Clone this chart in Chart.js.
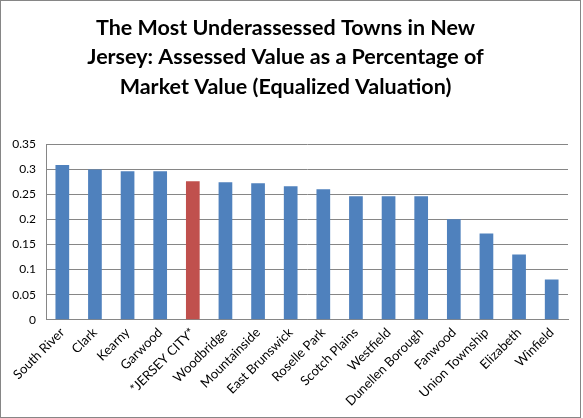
<!DOCTYPE html>
<html>
<head>
<meta charset="utf-8">
<script src="https://cdn.jsdelivr.net/npm/chart.js@4"></script>
<style>
  html, body { margin: 0; padding: 0; background: #fff; }
  #wrap {
    width: 579px; height: 416px;
    border: 1px solid #868686;
    position: relative;
  }
</style>
</head>
<body>
<div id="wrap"><canvas id="grafico"></canvas></div>
<script>
// Dados do gráfico
const cidades = ['South River', 'Clark', 'Kearny', 'Garwood', '*JERSEY CITY*', 'Woodbridge',
    'Mountainside', 'East Brunswick', 'Roselle Park', 'Scotch Plains', 'Westfield',
    'Dunellen Borough', 'Fanwood', 'Union Township', 'Elizabeth', 'Winfield'];
const valores = [0.308, 0.299, 0.296, 0.296, 0.276, 0.274, 0.272, 0.266, 0.260, 0.246,
    0.246, 0.246, 0.200, 0.172, 0.130, 0.080];
const rotulosY = ['0', '0.05', '0.1', '0.15', '0.2', '0.25', '0.3', '0.35'];
const titulo = ['The Most Underassessed Towns in New',
    'Jersey: Assessed Value as a Percentage of',
    'Market Value (Equalized Valuation)'];

// Destaque para Jersey City
const cores = cidades.map(c => c === '*JERSEY CITY*' ? '#C0504D' : '#4F81BD');

const ctx = document.getElementById('grafico').getContext('2d');
new Chart(ctx, {
    type: 'bar',
    data: {
        labels: cidades,
        datasets: [{
            data: valores,
            backgroundColor: cores,
            borderWidth: 0,
            categoryPercentage: 1,
            barPercentage: 0.42
        }]
    },
    options: {
        responsive: true,
        maintainAspectRatio: false,
        animation: false,
        layout: { padding: { left: 2, right: 12, top: 0, bottom: 3 } },
        plugins: {
            legend: { display: false },
            tooltip: { enabled: false },
            title: {
                display: true,
                text: titulo,
                color: '#000',
                font: { family: 'Lato', size: 21.5, weight: 'bold', lineHeight: 1.38 },
                padding: { top: 12, bottom: 42 }
            }
        },
        scales: {
            x: {
                grid: { display: false, drawTicks: false },
                border: { color: '#868686' },
                ticks: {
                    color: '#000',
                    font: { family: 'Lato', size: 13 },
                    maxRotation: 45,
                    minRotation: 45,
                    autoSkip: false,
                    padding: 5
                }
            },
            y: {
                min: 0,
                max: 0.35,
                afterFit: scale => { scale.width = 43; },
                grid: { color: '#868686', drawTicks: false },
                border: { color: '#868686' },
                ticks: {
                    stepSize: 0.05,
                    color: '#000',
                    font: { family: 'Lato', size: 12 },
                    padding: 10,
                    callback: (v, i) => rotulosY[i]
                }
            }
        }
    }
});
</script>
</body>
</html>
